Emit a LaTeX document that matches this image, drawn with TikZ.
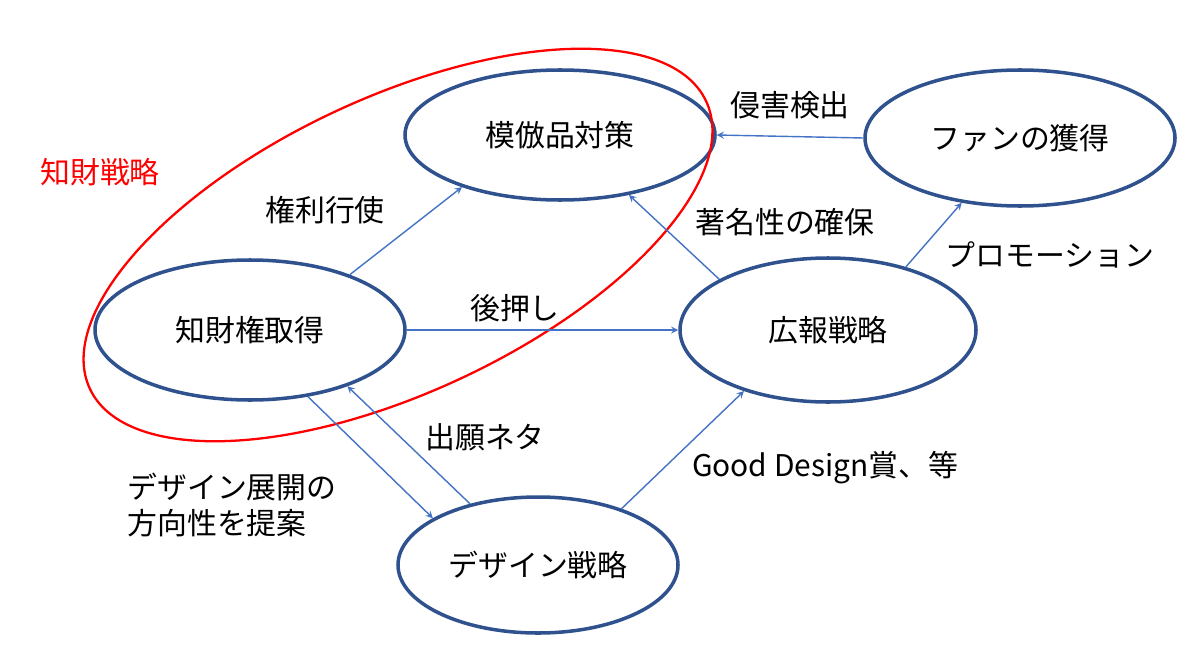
\documentclass[tikz,border=0pt]{standalone}
\usepackage{fontspec}
\setmainfont{Noto Sans CJK JP}
\usetikzlibrary{shapes.geometric}
\definecolor{ringblue}{HTML}{2F528F}
\definecolor{arrowblue}{HTML}{4472C4}
\begin{document}
\begin{tikzpicture}[
    goal/.style={ellipse, draw=ringblue, line width=2pt, minimum width=#1, font=\fontsize{17}{19}\selectfont},
    flow/.style={draw=arrowblue, line width=0.8pt, ->, >=stealth},
    lbl/.style={font=\fontsize{17}{20}\selectfont}
]
    \useasboundingbox (0,0) rectangle (24,12.98);
    % main nodes
    \node[goal=6.2cm, minimum height=2.6cm] (mm) at (11.2,10.28) {模倣品対策};
    \node[goal=6.2cm, minimum height=2.72cm] (fan) at (20.4,10.22) {ファンの獲得};
    \node[goal=6.2cm, minimum height=2.8cm] (ip) at (5.0,6.38) {知財権取得};
    \node[goal=5.92cm, minimum height=2.88cm] (pr) at (16.56,6.38) {広報戦略};
    \node[goal=5.6cm, minimum height=2.72cm] (ds) at (10.76,1.68) {デザイン戦略};
    % red group
    \draw[red, line width=1.3pt, rotate around={25:(7.96,8.08)}] (7.96,8.08) ellipse (6.8 and 2.95);
    \node[lbl, text=red] (grp) at (2.0,9.54) {知財戦略};
    % connectors
    \draw[flow] (ip.29) -- (mm.208);
    \draw[flow] (ip.0) -- (pr.180);
    \draw[flow] (pr.155) -- (mm.319);
    \draw[flow] (fan.180) -- (mm.0);
    \draw[flow] (pr.39) -- (fan.228);
    \draw[flow] (ip.311) -- (ds.156);
    \draw[flow] (ds.138) -- (ip.330);
    \draw[flow] (ds.34) -- (pr.216);
    % labels
    \node[lbl] (l1) at (6.5,8.78) {権利行使};
    \node[lbl] (l2) at (10.3,6.82) {後押し};
    \node[lbl] (l3) at (15.7,8.54) {著名性の確保};
    \node[lbl] (l4) at (15.8,10.88) {侵害検出};
    \node[lbl] (l5) at (21.0,7.88) {プロモーション};
    \node[lbl, align=left] (l6) at (4.64,2.88) {デザイン展開の\\方向性を提案};
    \node[lbl] (l7) at (9.7,4.24) {出願ネタ};
    \node[lbl] (l8) at (16.5,3.62) {Good Design賞、等};
\end{tikzpicture}
\end{document}
